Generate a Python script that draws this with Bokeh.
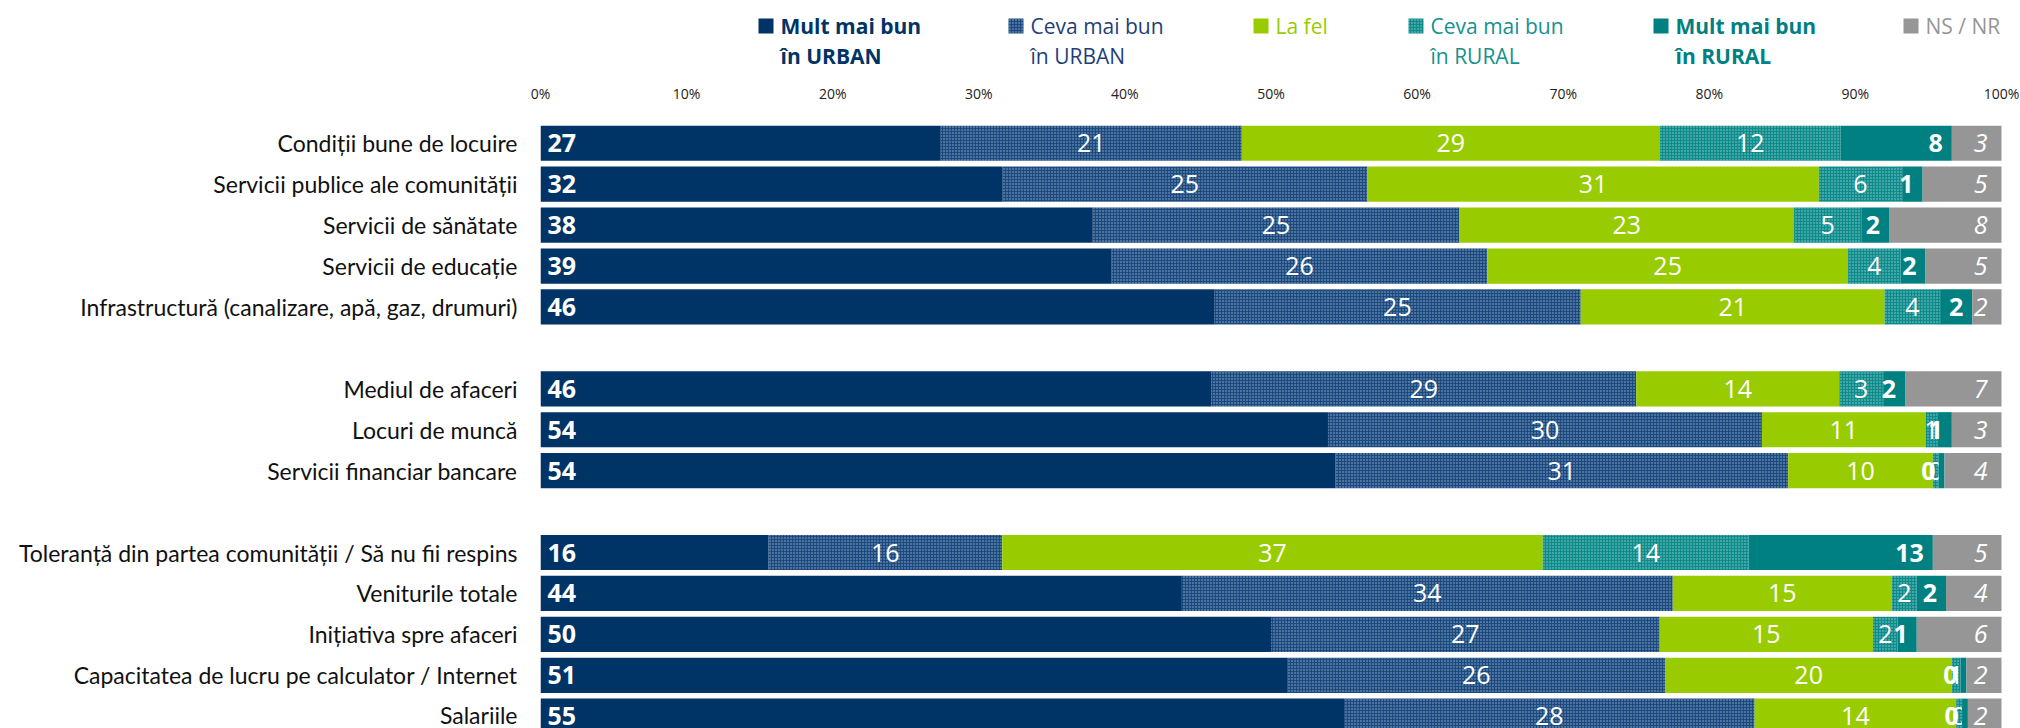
from bokeh.plotting import figure
from bokeh.layouts import column
from bokeh.models import Range1d, FixedTicker, PrintfTickFormatter
from bokeh.core.properties import value
from bokeh.embed import file_html
from bokeh.resources import INLINE

# ---------------- data ----------------
groups = [
    ["Condiții bune de locuire",
     "Servicii publice ale comunității",
     "Servicii de sănătate",
     "Servicii de educație",
     "Infrastructură (canalizare, apă, gaz, drumuri)"],
    ["Mediul de afaceri",
     "Locuri de muncă",
     "Servicii financiar bancare"],
    ["Toleranță din partea comunității / Să nu fii respins",
     "Veniturile totale",
     "Inițiativa spre afaceri",
     "Capacitatea de lucru pe calculator / Internet",
     "Salariile"],
]

series_names = [
    ("Mult mai bun", "în URBAN"),
    ("Ceva mai bun", "în URBAN"),
    ("La fel", ""),
    ("Ceva mai bun", "în RURAL"),
    ("Mult mai bun", "în RURAL"),
    ("NS / NR", ""),
]

mult_urban = [27.4, 31.6, 37.8, 39.1, 46.1, 45.9, 53.9, 54.4, 15.6, 43.9, 50.0, 51.1, 55.0]
ceva_urban = [20.6, 25.0, 25.1, 25.7, 25.1, 29.1, 29.7, 31.0, 16.0, 33.6, 26.6, 25.9, 28.1]
la_fel     = [28.6, 30.9, 22.9, 24.7, 20.8, 13.9, 11.2, 9.9, 37.0, 15.0, 14.6, 19.6, 13.8]
ceva_rural = [12.4, 5.7, 4.6, 3.6, 3.8, 3.0, 0.8, 0.4, 14.1, 1.7, 1.7, 0.6, 0.4]
mult_rural = [7.6, 1.4, 1.9, 1.7, 2.2, 1.5, 1.0, 0.4, 12.6, 2.0, 1.3, 0.4, 0.4]
ns_nr      = [3.4, 5.4, 7.7, 5.2, 2.0, 6.6, 3.4, 3.9, 4.7, 3.8, 5.8, 2.4, 2.3]

x_ticks = [0, 10, 20, 30, 40, 50, 60, 70, 80, 90, 100]

# ---------------- styling ----------------
CAT_FONT = "Lato"
FONT = "Open Sans"
colors = ["#003366", "#1B4A80", "#99CC00", "#0E8C8C", "#008080", "#969696"]
legend_text_colors = ["#003366", "#1F3F7A", "#99CC00", "#179090", "#008080", "#969696"]
legend_bold = [True, False, False, False, True, False]
hatched = [False, True, False, True, False, False]
hatch_kw = dict(hatch_pattern="dot", hatch_color="white", hatch_alpha=0.55,
                hatch_scale=3, hatch_weight=1.2)

series = [mult_urban, ceva_urban, la_fel, ceva_rural, mult_rural, ns_nr]

# slot positions (one empty slot between groups)
cats, ypos = [], []
slot = 0
for g in groups:
    for c in g:
        cats.append(c)
        ypos.append(slot)
        slot += 1
    slot += 1

W = 2020
H_LEG = 80
H_MAIN = 648
BORDER_L = 540
FRAME_100 = 1461          # pixel width of 0..100 %
X_MAX = 100 * (W - BORDER_L) / FRAME_100

# ---------------- legend figure ----------------
leg = figure(width=W, height=H_LEG, x_range=Range1d(BORDER_L, W), y_range=Range1d(H_LEG, 0),
             output_backend="svg", toolbar_location=None,
             x_axis_location=None, y_axis_location=None,
             min_border_left=BORDER_L, min_border_right=0,
             min_border_top=0, min_border_bottom=0, outline_line_color=None)
leg.grid.visible = False
leg_sq_x = [758, 1008, 1253, 1408, 1653, 1903]
for i, (l1, l2) in enumerate(series_names):
    sx = leg_sq_x[i]
    kw = dict(fill_color=colors[i], line_color=None)
    if hatched[i]:
        kw.update(hatch_kw)
    leg.quad(left=[sx], right=[sx + 15], top=[18], bottom=[33], **kw)
    style = "bold" if legend_bold[i] else "normal"
    leg.text(x=[sx + 22, sx + 22], y=[25, 55], text=[l1, l2],
             text_font=value(FONT), text_font_size="21px", text_font_style=style,
             text_color=legend_text_colors[i], text_align="left", text_baseline="middle")

# ---------------- main figure ----------------
p = figure(width=W, height=H_MAIN, x_range=Range1d(0, X_MAX), y_range=Range1d(14.30, -0.825),
           output_backend="svg", toolbar_location=None, x_axis_location="above",
           min_border_left=BORDER_L, min_border_right=0, min_border_top=25, min_border_bottom=0,
           outline_line_color=None)
p.grid.visible = False

left = [0.0] * len(cats)
for i, vals in enumerate(series):
    right = [a + b for a, b in zip(left, vals)]
    kw = dict(fill_color=colors[i], line_color=None)
    if hatched[i]:
        kw.update(hatch_kw)
    p.hbar(y=ypos, left=left, right=right, height=0.86, **kw)
    labels = [f"{v:.0f}" for v in vals]
    tk = dict(text=labels, y=ypos, text_color="white", text_font=value(FONT),
              text_font_size="25px", text_baseline="middle")
    if i == 0:
        p.text(x=left, x_offset=7, text_align="left", text_font_style="bold", **tk)
    elif i == 4:
        p.text(x=right, x_offset=-9, text_align="right", text_font_style="bold", **tk)
    elif i == 5:
        p.text(x=right, x_offset=-14, text_align="right", text_font_style="italic", **tk)
    else:
        mid = [(a + b) / 2 for a, b in zip(left, right)]
        p.text(x=mid, text_align="center", **tk)
    left = right

xa = p.xaxis[0]
xa.ticker = FixedTicker(ticks=x_ticks)
xa.formatter = PrintfTickFormatter(format="%d%%")
xa.axis_line_color = None
xa.major_tick_line_color = None
xa.minor_tick_line_color = None
xa.major_label_standoff = 1
xa.major_label_text_font = FONT
xa.major_label_text_font_size = "14px"
xa.major_label_text_color = "#222222"

ya = p.yaxis[0]
ya.ticker = FixedTicker(ticks=ypos)
ya.major_label_overrides = {y: c for y, c in zip(ypos, cats)}
ya.axis_line_color = None
ya.major_tick_line_color = None
ya.minor_tick_line_color = None
ya.major_label_standoff = 17
ya.major_label_text_font = CAT_FONT
ya.major_label_text_font_size = "23px"
ya.major_label_text_color = "#111111"

layout = column(leg, p, spacing=0)
open("out.html", "w").write(file_html(layout, INLINE))
